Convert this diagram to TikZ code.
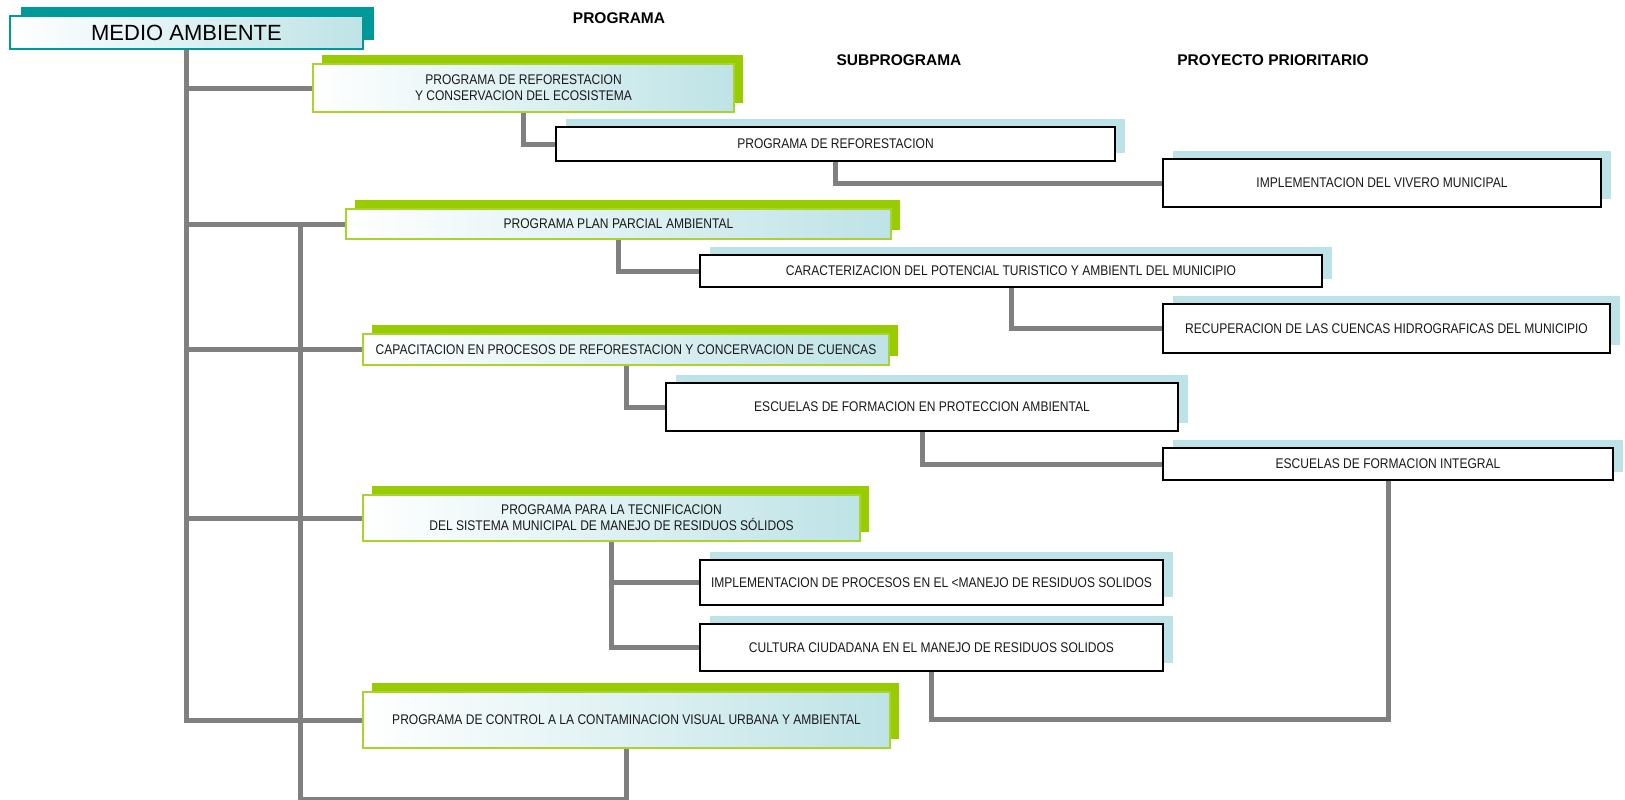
\documentclass[tikz,border=0pt]{standalone}
\usepackage{fontspec}
\setmainfont{Liberation Sans}
\newfontfamily\narrowfont{Liberation Sans}[FakeStretch=0.86]
\usetikzlibrary{shadows}
\definecolor{tealdark}{HTML}{009999}
\definecolor{greenbar}{HTML}{99CC00}
\definecolor{greenedge}{HTML}{A8D42C}
\definecolor{iceblue}{HTML}{BEE3E6}
\definecolor{linkgray}{HTML}{808080}
\tikzset{boxtext/.style={font=\narrowfont\fontsize{14}{16}\selectfont,
  align=center,inner sep=0pt,text=black!90}}
\tikzset{titlebox/.style={draw=tealdark,line width=2.5pt,left color=white,
  right color=iceblue,inner sep=0pt,font=\fontsize{22}{24}\selectfont,
  general shadow={fill=tealdark,shadow xshift=11pt,shadow yshift=9pt}}}
\tikzset{progbox/.style={boxtext,draw=greenedge,line width=2pt,left color=white,
  right color=iceblue,
  general shadow={fill=greenbar,shadow xshift=9pt,shadow yshift=9pt}}}
\tikzset{subbox/.style={boxtext,draw=black,line width=2.5pt,fill=white,
  general shadow={fill=iceblue,shadow xshift=10pt,shadow yshift=8pt}}}
\tikzset{link/.style={draw=linkgray,line width=5pt}}
\tikzset{header/.style={font=\bfseries\fontsize{15.5}{18}\selectfont}}

\begin{document}
\begin{tikzpicture}[x=1pt,y=-1pt]
\useasboundingbox (0,0) rectangle (1625,800);

% column heads
\node[header] (hprog) at (619,18) {PROGRAMA};
\node[header] (hsub) at (899,60) {SUBPROGRAMA};
\node[header] (hproy) at (1273,60) {PROYECTO PRIORITARIO};

\node[titlebox,minimum width=353pt,minimum height=33pt] (medio) at (186.5,32.5) {MEDIO AMBIENTE};

% programas
\node[progbox,minimum width=421pt,minimum height=48pt] (p1) at (523.5,88)
  {PROGRAMA DE REFORESTACION\\ Y CONSERVACION DEL ECOSISTEMA};
\node[progbox,minimum width=545pt,minimum height=30pt] (p2) at (618.5,224)
  {PROGRAMA PLAN PARCIAL AMBIENTAL};
\node[progbox,minimum width=526pt,minimum height=31pt] (p3) at (626,349.5)
  {CAPACITACION EN PROCESOS DE REFORESTACION Y CONCERVACION DE CUENCAS};
\node[progbox,minimum width=497pt,minimum height=46pt] (p4) at (611.5,518)
  {PROGRAMA PARA LA TECNIFICACION\\ DEL SISTEMA MUNICIPAL DE MANEJO DE RESIDUOS SÓLIDOS};
\node[progbox,minimum width=527pt,minimum height=56pt] (p5) at (626.5,720)
  {PROGRAMA DE CONTROL A LA CONTAMINACION VISUAL URBANA Y AMBIENTAL};

% subprogramas
\node[subbox,minimum width=559pt,minimum height=34pt] (s1) at (835.5,144)
  {PROGRAMA DE REFORESTACION};
\node[subbox,minimum width=622pt,minimum height=32pt] (s2) at (1011,271)
  {CARACTERIZACION DEL POTENCIAL TURISTICO Y AMBIENTL DEL MUNICIPIO};
\node[subbox,minimum width=512pt,minimum height=48pt] (s3) at (922,407)
  {ESCUELAS DE FORMACION EN PROTECCION AMBIENTAL};
\node[subbox,minimum width=463pt,minimum height=45pt] (s4) at (931.5,582.5)
  {IMPLEMENTACION DE PROCESOS EN EL <MANEJO DE RESIDUOS SOLIDOS};
\node[subbox,minimum width=463pt,minimum height=47pt] (s5) at (931.5,647.5)
  {CULTURA CIUDADANA EN EL MANEJO DE RESIDUOS SOLIDOS};

% proyectos prioritarios
\node[subbox,minimum width=438pt,minimum height=48pt] (r1) at (1382,183)
  {IMPLEMENTACION DEL VIVERO MUNICIPAL};
\node[subbox,minimum width=447pt,minimum height=49pt] (r2) at (1386.5,328.5)
  {RECUPERACION DE LAS CUENCAS HIDROGRAFICAS DEL MUNICIPIO};
\node[subbox,minimum width=450pt,minimum height=32pt] (r3) at (1388,464)
  {ESCUELAS DE FORMACION INTEGRAL};

% trunk
\draw[link] (medio.south) |- (p5.west);
\foreach \p in {p1,p2,p3,p4}{
  \draw[link] (medio.south |- \p.west) -- (\p.west);
}

\foreach \a/\b in {p1/s1,s1/r1,p2/s2,s2/r2,p3/s3,s3/r3,p4/s4,p4/s5}{
  \draw[link] (\a.south) |- (\b.west);
}

\draw[link] (s5.south) -- ++(0,47) -| (r3.south);
\coordinate (j2) at (300,224);
\draw[link] (p5.south) -- ++(0,50) -| (j2);

\end{tikzpicture}
\end{document}
